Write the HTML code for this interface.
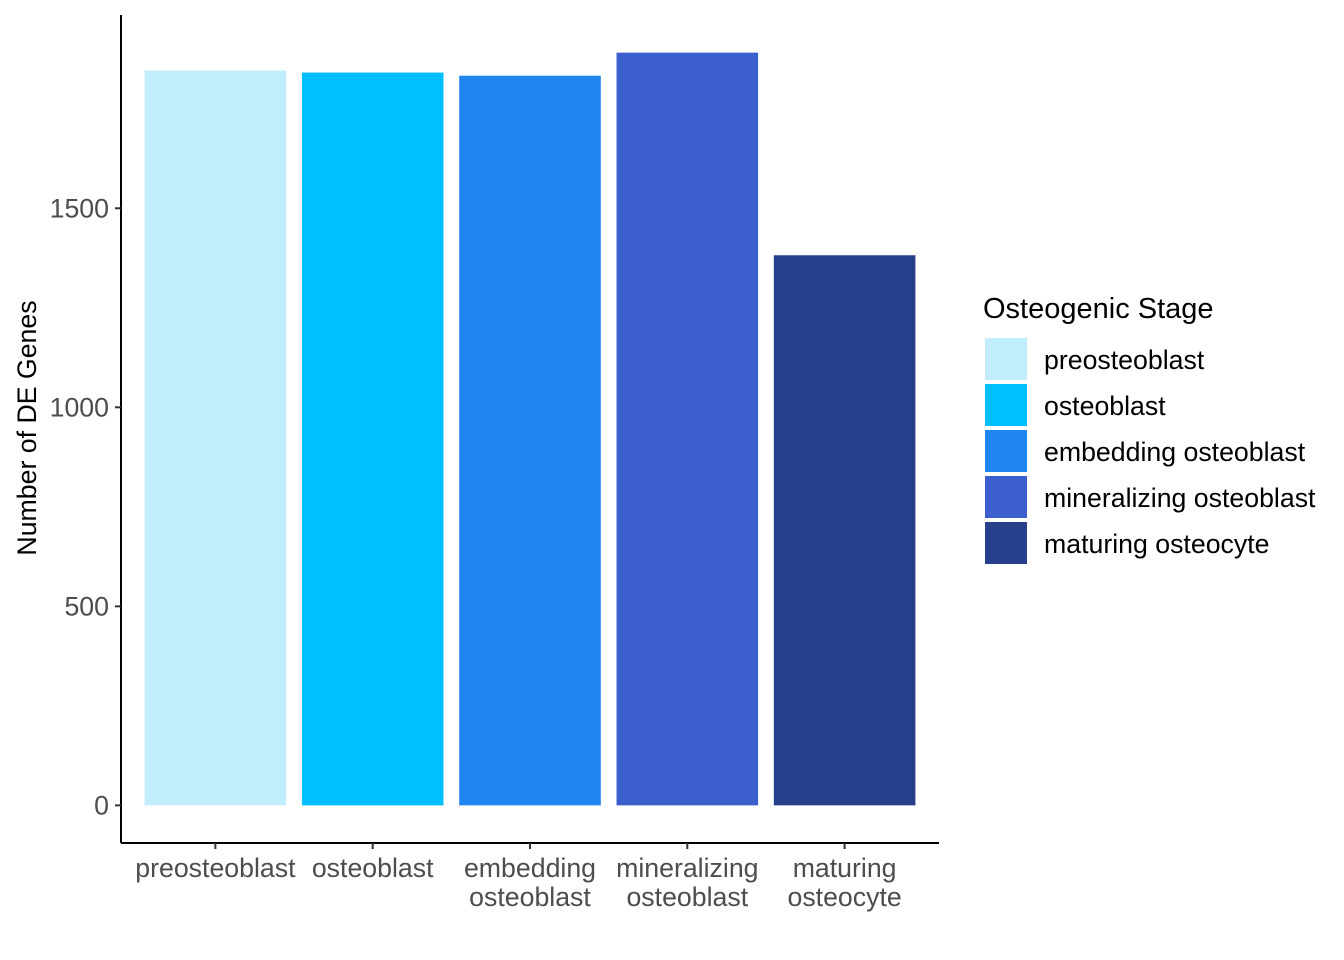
<!DOCTYPE html>
<html><head><meta charset="utf-8"><style>
body{margin:0;background:#fff}
svg{display:block;font-family:"Liberation Sans",Arial,sans-serif}
</style></head><body>
<svg id="chart" width="1344" height="960">
<g id="bars"></g>
<g id="yticks"></g>
<g id="xticks"></g>
<text transform="translate(36,428) rotate(-90)" text-anchor="middle" font-size="26.7" fill="#000">Number of DE Genes</text>
<g id="legend">
<text x="983" y="318" font-size="29" fill="#000">Osteogenic Stage</text>
</g>
</svg>
<script>
const categories=["preosteoblast","osteoblast","embedding osteoblast","mineralizing osteoblast","maturing osteocyte"];
const tickLines=[["preosteoblast"],["osteoblast"],["embedding","osteoblast"],["mineralizing","osteoblast"],["maturing","osteocyte"]];
const values=[1846,1841,1833,1891,1382];
const colors=["#c1edfc","#00bfff","#1e86ee","#3b5fcd","#27408b"];
const yTicks=[0,500,1000,1500];
const NS="http://www.w3.org/2000/svg";
const L=121,R=939,T=15,B=843;
const maxV=Math.max(...values);
const yMin=-0.05*maxV,yMax=maxV*1.05;
const y=v=>B-(v-yMin)/(yMax-yMin)*(B-T);
const step=(R-L)/(categories.length+0.2);
const x=i=>L+0.6*step+i*step;
const bw=step*0.9;
function el(t,a,p){const e=document.createElementNS(NS,t);for(const k in a)e.setAttribute(k,a[k]);p.appendChild(e);return e;}
const gb=document.getElementById('bars');
values.forEach((v,i)=>{const r=el('rect',{x:x(i)-bw/2,y:y(v),width:bw,height:y(0)-y(v),fill:colors[i]},gb);

});
const gy=document.getElementById('yticks');
el('line',{x1:L,x2:L,y1:T,y2:B,stroke:'#000','stroke-width':2},gy);
yTicks.forEach(t=>{el('line',{x1:L-6,x2:L,y1:y(t),y2:y(t),stroke:'#333','stroke-width':2},gy);
const tx=el('text',{x:L-12,y:y(t)+9,'text-anchor':'end','font-size':26.7,fill:'#4d4d4d'},gy);tx.textContent=t;

});
const gx=document.getElementById('xticks');
el('line',{x1:L,x2:R,y1:B,y2:B,stroke:'#000','stroke-width':2},gx);
tickLines.forEach((ls,i)=>{el('line',{x1:x(i),x2:x(i),y1:B,y2:B+6,stroke:'#333','stroke-width':2},gx);
ls.forEach((s,j)=>{const tx=el('text',{x:x(i),y:B+34+j*29,'text-anchor':'middle','font-size':26.7,fill:'#4d4d4d'},gx);tx.textContent=s;

});});
const lg=document.getElementById('legend');
categories.forEach((c,i)=>{const r=el('rect',{x:985,y:338+i*46,width:42,height:42,fill:colors[i]},lg);


const t=el('text',{x:1044,y:369+i*46,'font-size':26.7,fill:'#000'},lg);t.textContent=c;

});
</script>
</body></html>
